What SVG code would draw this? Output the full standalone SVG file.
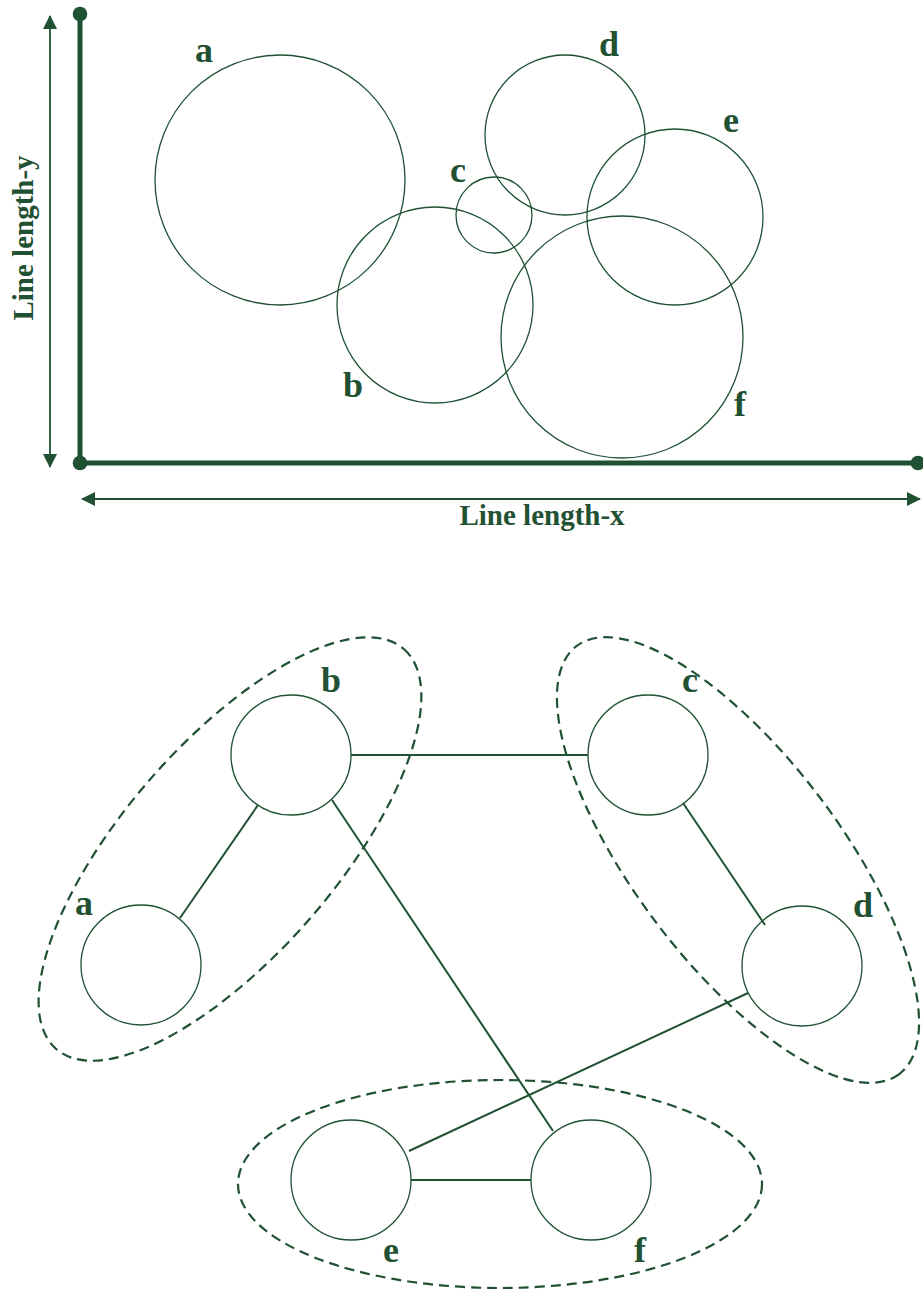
<svg xmlns="http://www.w3.org/2000/svg" width="923" height="1301" viewBox="0 0 923 1301">
<style>
.c{fill:none;stroke:#1f5132;stroke-width:1.3}
.ax{stroke:#1f5132;stroke-width:5;fill:none}
.dot{fill:#1f5132}
.ar{stroke:#1f5132;stroke-width:1.8;fill:none}
.lb{font-family:"Liberation Serif",serif;font-weight:bold;font-size:36px;fill:#1f5132}
.tt{font-family:"Liberation Serif",serif;font-weight:bold;font-size:29px;fill:#1f5132}
.grp{fill:none;stroke:#1f5132;stroke-width:2.2;stroke-dasharray:10 6}
.e{stroke:#1f5132;stroke-width:2;fill:none}
</style>
<defs>
<marker id="ah" viewBox="0 0 14 14" refX="13" refY="7" markerWidth="14" markerHeight="14" markerUnits="userSpaceOnUse" orient="auto-start-reverse">
<path d="M0,0 L14,7 L0,14 Z" fill="#1f5132"/>
</marker>
</defs>
<rect width="923" height="1301" fill="#ffffff"/>
<g id="axes">
<line class="ax" x1="80" y1="14" x2="80" y2="463"/>
<line class="ax" x1="80" y1="463" x2="918" y2="463"/>
<circle class="dot" cx="80" cy="14" r="7.3"/>
<circle class="dot" cx="80" cy="463" r="7.3"/>
<circle class="dot" cx="918" cy="463" r="7.3"/>
<line class="ar" x1="50" y1="16" x2="50" y2="467" marker-start="url(#ah)" marker-end="url(#ah)"/>
<line class="ar" x1="82" y1="499" x2="920" y2="499" marker-start="url(#ah)" marker-end="url(#ah)"/>
<text class="tt" transform="translate(33,238) rotate(-90)" text-anchor="middle">Line length-y</text>
<text class="tt" x="542" y="525" text-anchor="middle">Line length-x</text>
</g>
<g id="top-a"><circle class="c" cx="280" cy="180" r="125"/><text class="lb" x="204" y="62" text-anchor="middle">a</text></g>
<g id="top-b"><circle class="c" cx="435" cy="305" r="98"/><text class="lb" x="353" y="397" text-anchor="middle">b</text></g>
<g id="top-c"><circle class="c" cx="494" cy="215" r="38"/><text class="lb" x="458" y="182" text-anchor="middle">c</text></g>
<g id="top-d"><circle class="c" cx="565" cy="135" r="80"/><text class="lb" x="609" y="56" text-anchor="middle">d</text></g>
<g id="top-e"><circle class="c" cx="675" cy="217" r="88"/><text class="lb" x="731" y="132" text-anchor="middle">e</text></g>
<g id="top-f"><circle class="c" cx="622" cy="337" r="121"/><text class="lb" x="740" y="416" text-anchor="middle">f</text></g>
<g id="groups">
<ellipse class="grp" cx="230" cy="849" rx="265" ry="106" transform="rotate(-49 230 849)"/>
<ellipse class="grp" cx="738" cy="860" rx="268" ry="103" transform="rotate(53 738 860)"/>
<ellipse class="grp" cx="500" cy="1184" rx="262" ry="104"/>
</g>
<g id="connectors">
<line class="e" x1="351" y1="755" x2="588" y2="755"/>
<line class="e" x1="258" y1="805" x2="180" y2="918"/>
<line class="e" x1="332" y1="800" x2="553" y2="1131"/>
<line class="e" x1="683" y1="803" x2="765" y2="925"/>
<line class="e" x1="748" y1="993" x2="409" y2="1151"/>
<line class="e" x1="411" y1="1180" x2="531" y2="1180"/>
</g>
<g id="node-a"><circle class="c" cx="141" cy="965" r="60"/><text class="lb" x="84" y="915" text-anchor="middle">a</text></g>
<g id="node-b"><circle class="c" cx="291" cy="755" r="60"/><text class="lb" x="331" y="692" text-anchor="middle">b</text></g>
<g id="node-c"><circle class="c" cx="648" cy="755" r="60"/><text class="lb" x="690" y="692" text-anchor="middle">c</text></g>
<g id="node-d"><circle class="c" cx="802" cy="966" r="60"/><text class="lb" x="863" y="917" text-anchor="middle">d</text></g>
<g id="node-e"><circle class="c" cx="351" cy="1180" r="60"/><text class="lb" x="391" y="1262" text-anchor="middle">e</text></g>
<g id="node-f"><circle class="c" cx="591" cy="1180" r="60"/><text class="lb" x="640" y="1262" text-anchor="middle">f</text></g>
</svg>
